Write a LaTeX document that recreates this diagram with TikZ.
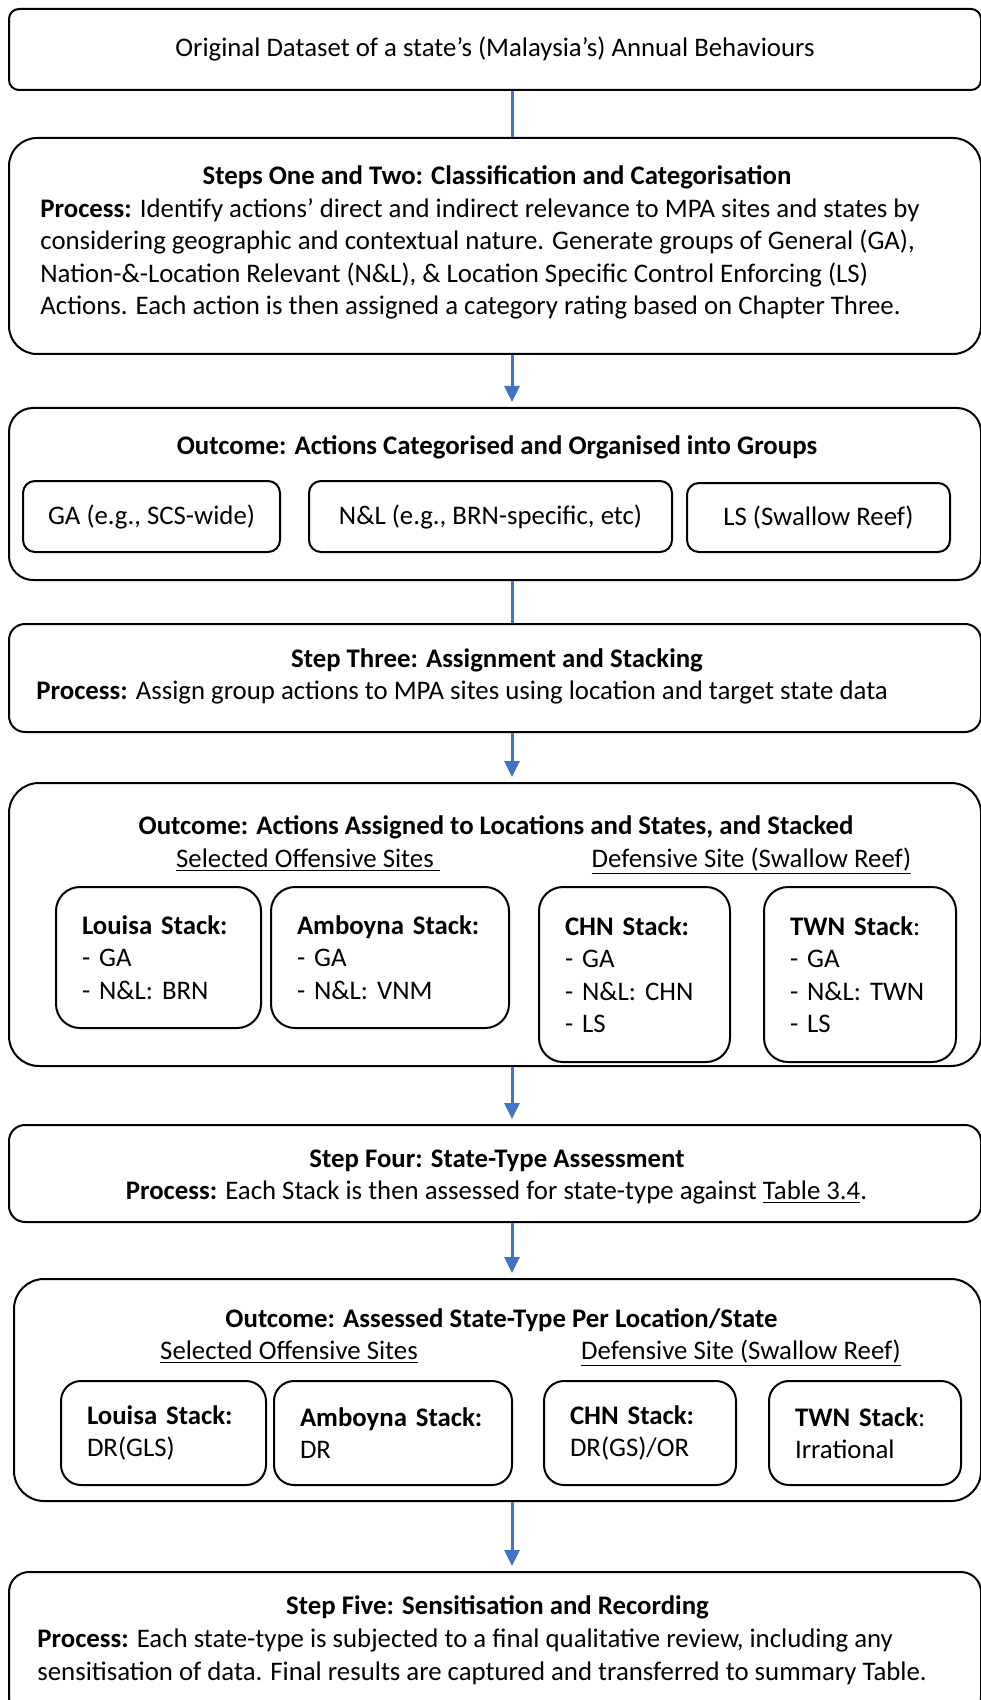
\documentclass[tikz,border=0pt]{standalone}
\usepackage{fontspec}
\setmainfont{Carlito}
\usepackage{xcolor}
\usetikzlibrary{arrows.meta}
\definecolor{flowblue}{HTML}{4472C4}
\tikzset{
	bigbox/.style={draw, line width=1pt, minimum width=486pt, inner sep=0pt},
	groupbox/.style={draw, line width=1pt, rounded corners=6pt, inner sep=0pt, minimum height=35.5pt},
	stackbox/.style 2 args={draw, line width=1pt, align=left, inner xsep=13pt, inner ysep=0pt, minimum height=#1, text width=#2},
	txt/.style={inner sep=0pt},
	flow/.style={flowblue, line width=1.5pt},
	flowarrow/.style={flow, -{Triangle[length=8pt,width=7.5pt]}, shorten >=2.5pt},
}
\begin{document}
\begin{tikzpicture}[x=0.5pt, y=-0.5pt, font=\fontsize{13.4}{16.25}\selectfont]
	\useasboundingbox (0,0) rectangle (980,1700);
	\coordinate (spine) at (512,0);
	% original data
	\node[bigbox, rounded corners=5pt, minimum height=40.5pt] (orig) at (495,49.5) {Original Dataset of a state’s (Malaysia’s) Annual Behaviours};
	% steps one and two
	\node[bigbox, rounded corners=14pt, minimum height=108pt] (stepAB) at (495,246) {};
	\node[txt, anchor=base] (stepABtitle) at (497,185) {\textbf{Steps One and Two: Classification and Categorisation}};
	\node[txt, anchor=base west, align=left] (stepABtext) at (40,315) {\textbf{Process:} Identify actions’ direct and indirect relevance to MPA sites and states by\\considering geographic and contextual nature. Generate groups of General (GA),\\Nation-\&-Location Relevant (N\&L), \& Location Specific Control Enforcing (LS)\\Actions. Each action is then assigned a category rating based on Chapter Three.};
	% groups
	\node[bigbox, rounded corners=12pt, minimum height=86pt] (groups) at (495,494) {};
	\node[txt, anchor=base] (groupstitle) at (497,454) {\textbf{Outcome: Actions Categorised and Organised into Groups}};
	\node[groupbox, minimum width=128.5pt] (ga) at (151.5,516.5) {GA (e.g., SCS-wide)};
	\node[groupbox, minimum width=181.5pt] (nl) at (490.5,516.5) {N\&L (e.g., BRN-specific, etc)};
	\node[groupbox, minimum width=131.5pt, minimum height=34.5pt] (ls) at (818.5,517.5) {LS (Swallow Reef)};
	% step three
	\node[bigbox, rounded corners=8pt, minimum height=54pt] (stepC) at (495,678) {};
	\node[txt, anchor=base] (stepCtitle) at (497,667) {\textbf{Step Three: Assignment and Stacking}};
	\node[txt, anchor=base west] (stepCtext) at (36,699) {\textbf{Process:} Assign group actions to MPA sites using location and target state data};
	% stacks
	\node[bigbox, rounded corners=15pt, minimum height=141.5pt] (assigned) at (495,924.5) {};
	\node[txt, anchor=base] (assignedtitle) at (496,834) {\textbf{Outcome: Actions Assigned to Locations and States, and Stacked}};
	\node[txt, anchor=base] (offA) at (308,867) {\underline{Selected Offensive Sites~}};
	\node[txt, anchor=base] (defA) at (751.5,867) {\underline{Defensive Site (Swallow Reef)}};
	\node[stackbox={70.5pt}{76.5pt}, rounded corners=12pt] (louisaA) at (158.5,957.5) {\textbf{Louisa~Stack:}\\- GA\\- N\&L: BRN};
	\node[stackbox={70.5pt}{93pt}, rounded corners=12pt] (amboynaA) at (390,957.5) {\textbf{Amboyna~Stack:}\\- GA\\- N\&L: VNM};
	\node[stackbox={87.5pt}{69.5pt}, rounded corners=12pt] (chnA) at (634.5,974.5) {\textbf{CHN~Stack:}\\- GA\\- N\&L: CHN\\- LS};
	\node[stackbox={87.5pt}{70pt}, rounded corners=12pt] (twnA) at (860,974.5) {\textbf{TWN~Stack}:\\- GA\\- N\&L: TWN\\- LS};
	% step four
	\node[bigbox, rounded corners=8pt, minimum height=48.5pt] (stepD) at (495,1173.5) {};
	\node[txt, anchor=base] (stepDtitle) at (497,1167) {\textbf{Step Four: State-Type Assessment}};
	\node[txt, anchor=base] (stepDtext) at (496.5,1199) {\textbf{Process:} Each Stack is then assessed for state-type against \underline{Table 3.4}.};
	% state types
	\node[bigbox, rounded corners=15pt, minimum width=483.5pt, minimum height=111pt] (assessed) at (497.5,1390) {};
	\node[txt, anchor=base] (assessedtitle) at (501.5,1327) {\textbf{Outcome: Assessed State-Type Per Location/State}};
	\node[txt, anchor=base] (offB) at (289,1359) {\underline{Selected Offensive Sites}};
	\node[txt, anchor=base] (defB) at (741,1359) {\underline{Defensive Site (Swallow Reef)}};
	\node[stackbox={52pt}{76.5pt}, rounded corners=10pt] (louisaB) at (163.5,1433) {\textbf{Louisa~Stack:}\\DR(GLS)};
	\node[stackbox={52pt}{93pt}, rounded corners=10pt] (amboynaB) at (393,1433) {\textbf{Amboyna~Stack:}\\DR};
	\node[stackbox={52pt}{70pt}, rounded corners=10pt] (chnB) at (640,1433) {\textbf{CHN~Stack:}\\DR(GS)/OR};
	\node[stackbox={52pt}{70pt}, rounded corners=10pt] (twnB) at (865,1433) {\textbf{TWN~Stack}:\\Irrational};
	% step five
	\node[bigbox, rounded corners=10pt, minimum height=72.5pt] (stepE) at (495,1644.5) {};
	\node[txt, anchor=base] (stepEtitle) at (497.5,1614) {\textbf{Step Five: Sensitisation and Recording}};
	\node[txt, anchor=base west, align=left] (stepEtext) at (37,1680) {\textbf{Process:} Each state-type is subjected to a final qualitative review, including any\\sensitisation of data. Final results are captured and transferred to summary Table.};
	% connectors
	\draw[flow] (orig.south -| spine) -- (stepAB.north -| spine);
	\draw[flowarrow] (stepAB.south -| spine) -- (groups.north -| spine);
	\draw[flow] (groups.south -| spine) -- (stepC.north -| spine);
	\draw[flowarrow] (stepC.south -| spine) -- (assigned.north -| spine);
	\draw[flowarrow] (assigned.south -| spine) -- (stepD.north -| spine);
	\draw[flowarrow] (stepD.south -| spine) -- (assessed.north -| spine);
	\draw[flowarrow] (assessed.south -| spine) -- (stepE.north -| spine);
\end{tikzpicture}
\end{document}
